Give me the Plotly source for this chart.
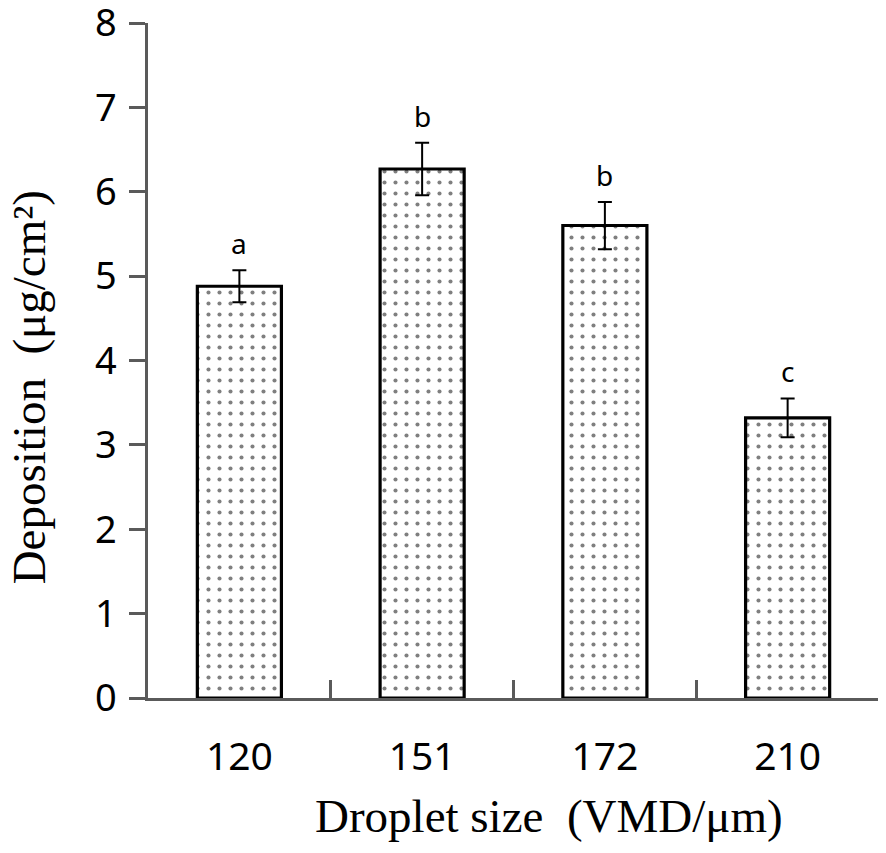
import plotly.graph_objects as go

categories = ["120", "151", "172", "210"]
deposition = [4.88, 6.27, 5.60, 3.32]
errors = [0.19, 0.31, 0.28, 0.23]
letters = ["a", "b", "b", "c"]
y_ticks = [0, 1, 2, 3, 4, 5, 6, 7, 8]

AXIS = "#5a5a5a"
SANS = "Noto Sans, Open Sans, sans-serif"
SERIF = "Liberation Serif, Times New Roman, serif"
positions = list(range(len(categories)))

fig = go.Figure()
fig.add_trace(go.Bar(
    x=positions, y=deposition, width=0.46,
    marker=dict(color="white",
                line=dict(color="black", width=3.2),
                pattern=dict(shape=".", fgcolor="black", bgcolor="white",
                             size=11, solidity=0.11)),
    error_y=dict(type="data", array=errors, color="black", thickness=2, width=7),
    showlegend=False,
))

for p, v, e, l in zip(positions, deposition, errors, letters):
    fig.add_annotation(x=p, y=v + e, text=l, showarrow=False,
                       yanchor="bottom", yshift=6,
                       font=dict(family=SANS, size=28, color="black"))

fig.add_annotation(xref="paper", yref="paper", x=0.549, y=-0.175,
                   text="Droplet size  (VMD/μm)", showarrow=False,
                   xanchor="center", yanchor="middle",
                   font=dict(family=SERIF, size=47, color="black"))
fig.add_annotation(xref="paper", yref="paper", x=-0.163, y=0.46,
                   text="Deposition  (μg/cm²)", showarrow=False, textangle=-90,
                   xanchor="center", yanchor="middle",
                   font=dict(family=SERIF, size=47, color="black"))

fig.update_layout(
    width=878, height=845,
    margin=dict(l=140, r=7, t=15, b=155),
    plot_bgcolor="white", paper_bgcolor="white",
)
fig.update_xaxes(
    range=[-0.5, 3.5], tickmode="array", tickvals=positions, ticktext=categories,
    showline=True, linecolor=AXIS, linewidth=2.5,
    ticks="", showgrid=False, zeroline=False, automargin=False,
    tickfont=dict(family=SANS, size=39, color="black"),
    ticklabelstandoff=22, tickangle=0,
)
# boundary tick marks drawn as a second, overlaying x axis with no labels
fig.update_layout(xaxis2=dict(
    overlaying="x", side="bottom", range=[-0.5, 3.5],
    tickmode="array", tickvals=[p + 0.5 for p in positions],
    ticks="inside", ticklen=18, tickwidth=2.5, tickcolor=AXIS,
    showticklabels=False, showline=False, showgrid=False, zeroline=False,
))
fig.add_trace(go.Scatter(x=[None], y=[None], xaxis="x2", showlegend=False, hoverinfo="skip"))
fig.update_yaxes(
    range=[0, 8.0001], tickvals=y_ticks, showline=True, linecolor=AXIS, linewidth=2.5,
    ticks="outside", ticklen=16, tickwidth=2.5, tickcolor=AXIS, automargin=False,
    tickfont=dict(family=SANS, size=38, color="black"), ticklabeloverflow="allow",
    ticklabelstandoff=5, showgrid=False, zeroline=False,
)

fig.write_html("out.html")
